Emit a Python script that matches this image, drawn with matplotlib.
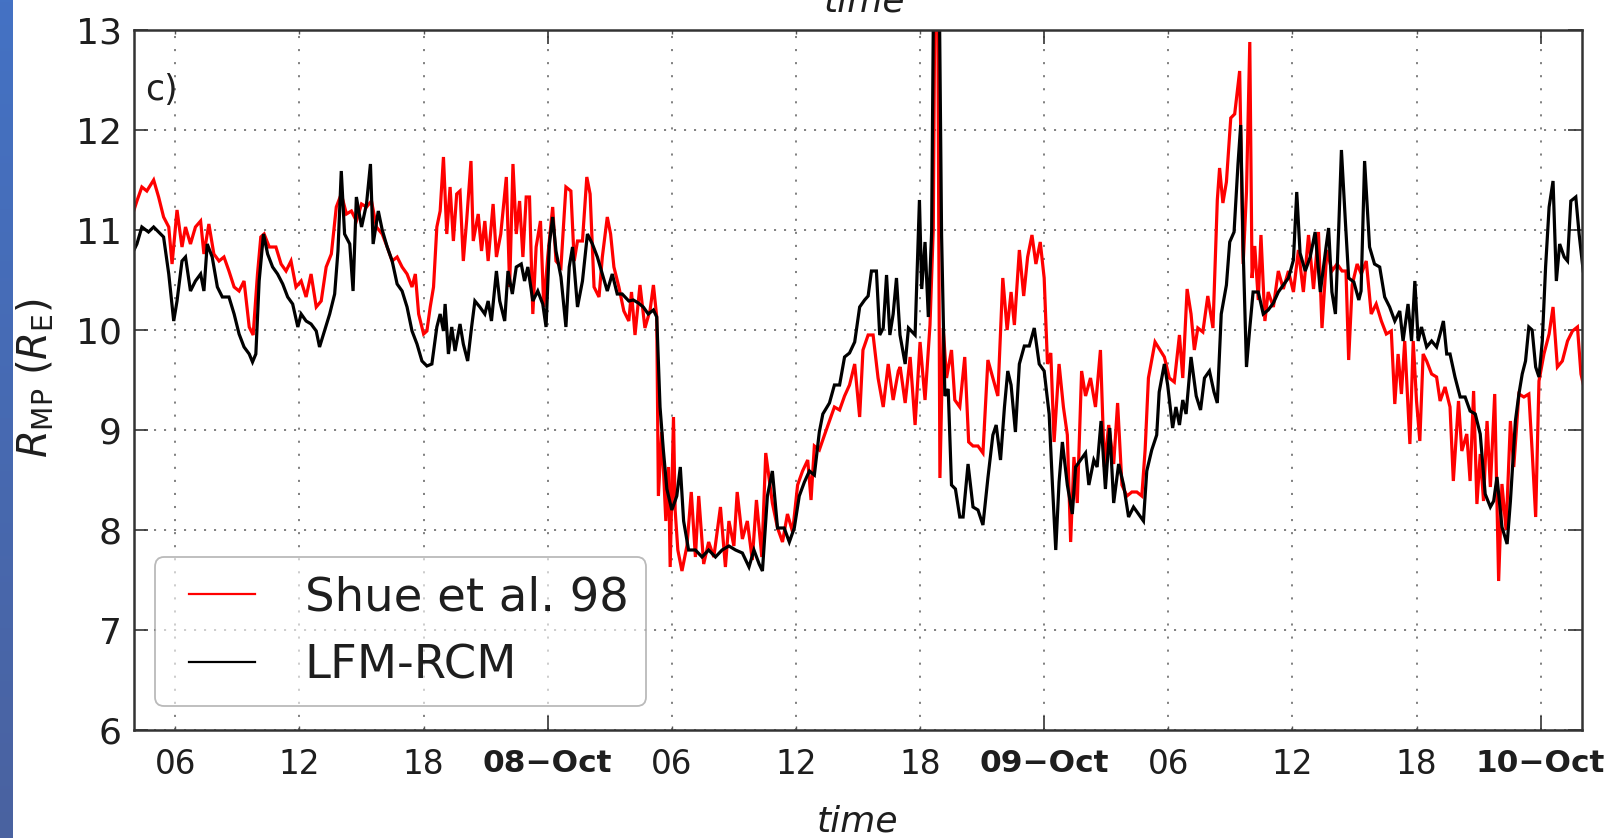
import matplotlib
matplotlib.use("Agg")
import matplotlib.pyplot as plt
import matplotlib.dates as mdates
import numpy as np
import pandas as pd
from matplotlib.lines import Line2D
from matplotlib.legend_handler import HandlerLine2D

plt.rcParams["font.family"] = ["DejaVu Sans"]
plt.rcParams["mathtext.fontset"] = "dejavusans"
plt.rcParams["lines.scale_dashes"] = False

# ---- data: (hours since 07-Oct 00:00 UT, magnetopause standoff distance in R_E) ----
shue98 = [
    (4.0, 11.2), (4.14, 11.29), (4.38, 11.43), (4.62, 11.39), (4.95, 11.5), (5.19, 11.33), (5.43, 11.13),
    (5.68, 11.03), (5.84, 10.66), (6.08, 11.2), (6.32, 10.83), (6.49, 11.03), (6.73, 10.86), (6.97, 11.03),
    (7.22, 11.09), (7.38, 10.76), (7.62, 11.06), (7.86, 10.76), (8.11, 10.69), (8.35, 10.73), (8.59, 10.59),
    (8.84, 10.43), (9.08, 10.39), (9.32, 10.49), (9.57, 10.03), (9.76, 9.95), (9.97, 10.56), (10.13, 10.93),
    (10.29, 10.96), (10.54, 10.83), (10.86, 10.83), (11.11, 10.66), (11.35, 10.59), (11.59, 10.69),
    (11.83, 10.43), (12.08, 10.49), (12.32, 10.33), (12.56, 10.56), (12.81, 10.23), (13.05, 10.29),
    (13.29, 10.63), (13.54, 10.76), (13.78, 11.23), (14.02, 11.36), (14.27, 11.16), (14.51, 11.19),
    (14.75, 11.09), (15.0, 11.26), (15.24, 11.23), (15.48, 11.29), (15.72, 11.03),
    (16.0, 10.96), (16.24, 10.83), (16.48, 10.69), (16.72, 10.73), (16.96, 10.63), (17.2, 10.56),
    (17.44, 10.43), (17.6, 10.56), (17.76, 10.16), (18.0, 9.96), (18.16, 9.99), (18.32, 10.23),
    (18.48, 10.43), (18.64, 11.03), (18.8, 11.19), (18.96, 11.73), (19.12, 10.96), (19.28, 11.43),
    (19.44, 10.89), (19.6, 11.36), (19.76, 11.39), (19.92, 10.69), (20.08, 11.09), (20.29, 11.69),
    (20.4, 10.89), (20.64, 11.16), (20.8, 10.79), (20.96, 11.09), (21.12, 10.69), (21.36, 11.26),
    (21.52, 10.73), (21.73, 10.96), (22.0, 11.53), (22.16, 10.43), (22.32, 11.66), (22.48, 10.96),
    (22.64, 11.29), (22.8, 10.73), (22.96, 11.33), (23.12, 11.33), (23.28, 10.16), (23.44, 10.83),
    (23.65, 11.09), (23.81, 10.23), (24.0, 10.73), (24.24, 11.23), (24.4, 10.69), (24.64, 10.63),
    (24.88, 11.43), (25.12, 11.39), (25.28, 10.69), (25.44, 10.89), (25.68, 10.89), (25.89, 11.53),
    (26.05, 11.36), (26.24, 10.43), (26.48, 10.33), (26.64, 10.73), (26.88, 11.13), (27.04, 10.96),
    (27.2, 10.63), (27.44, 10.43), (27.68, 10.19), (27.92, 10.09),
    (28.05, 10.38), (28.22, 9.95), (28.46, 10.45), (28.7, 10.02), (28.95, 10.2), (29.11, 10.45),
    (29.27, 10.13), (29.35, 8.34), (29.51, 8.98), (29.71, 8.09), (29.84, 8.63), (29.92, 7.63),
    (30.08, 9.13), (30.16, 8.2), (30.29, 7.8), (30.49, 7.59), (30.73, 7.84), (30.94, 8.38), (31.14, 7.73),
    (31.3, 8.34), (31.54, 7.66), (31.78, 7.88), (32.03, 7.73), (32.35, 8.23), (32.59, 7.63), (32.76, 8.09),
    (33.0, 7.84), (33.16, 8.38), (33.41, 7.91), (33.65, 8.09), (33.89, 7.7), (34.09, 8.3), (34.35, 7.73),
    (34.54, 8.77), (34.7, 8.52), (34.86, 8.27), (35.11, 8.02), (35.35, 7.88), (35.59, 8.16), (35.84, 7.98),
    (36.08, 8.45), (36.32, 8.59), (36.57, 8.7), (36.73, 8.3), (36.89, 8.84), (37.13, 8.8), (37.38, 8.95),
    (37.62, 9.09), (37.86, 9.23), (38.11, 9.2), (38.35, 9.34), (38.59, 9.45), (38.84, 9.66), (39.08, 9.13),
    (39.24, 9.8), (39.49, 9.95), (39.73, 9.95), (39.97, 9.52), (40.22, 9.23), (40.46, 9.66), (40.7, 9.3),
    (40.95, 9.59),
    (41.04, 9.63), (41.28, 9.27), (41.52, 9.73), (41.76, 9.05), (42.0, 9.88), (42.24, 9.3), (42.48, 10.05),
    (42.64, 11.02), (42.72, 13.5), (42.85, 13.5), (42.96, 8.52), (43.12, 10.02), (43.28, 9.52),
    (43.52, 9.8), (43.68, 9.3), (43.92, 9.23), (44.16, 9.73), (44.35, 8.88), (44.56, 8.84), (44.8, 8.84),
    (45.04, 8.77), (45.28, 9.7), (45.52, 9.52), (45.76, 9.34), (46.0, 10.52), (46.21, 10.0), (46.4, 10.38),
    (46.56, 10.05), (46.8, 10.8), (47.01, 10.34), (47.2, 10.73), (47.41, 10.95), (47.6, 10.66),
    (47.81, 10.88), (48.0, 10.52), (48.16, 9.66), (48.32, 9.77), (48.48, 8.88), (48.72, 9.66),
    (48.93, 9.23), (49.12, 8.95), (49.28, 7.88), (49.44, 8.73), (49.6, 8.27), (49.81, 9.59), (50.0, 9.34),
    (50.24, 9.52), (50.48, 9.23), (50.72, 9.8), (50.91, 8.63), (51.12, 9.05), (51.36, 8.66), (51.55, 9.27),
    (51.76, 8.45), (52.0, 8.34), (52.24, 8.38), (52.48, 8.38), (52.72, 8.34), (52.88, 8.8), (53.04, 9.52),
    (53.2, 9.7), (53.36, 9.88), (53.6, 9.8),
    (53.81, 9.73), (54.05, 9.52), (54.29, 9.48), (54.54, 9.95), (54.7, 9.52), (54.91, 10.41), (55.1, 10.16),
    (55.26, 9.8), (55.43, 10.02), (55.67, 9.98), (55.91, 10.34), (56.16, 10.02), (56.37, 11.3),
    (56.48, 11.62), (56.64, 11.27), (56.81, 11.48), (57.02, 12.12), (57.21, 12.16), (57.45, 12.59),
    (57.62, 10.66), (57.78, 11.38), (57.94, 12.88), (58.05, 10.52), (58.18, 10.84), (58.35, 10.3),
    (58.48, 10.95), (58.67, 10.09), (58.83, 10.38), (59.08, 10.23), (59.32, 10.59), (59.56, 10.41),
    (59.81, 10.59), (60.05, 10.38), (60.29, 10.8), (60.53, 10.38), (60.78, 10.95), (61.02, 10.41),
    (61.26, 10.98), (61.43, 10.02), (61.67, 10.8), (61.91, 10.59), (62.16, 10.66), (62.4, 10.59),
    (62.59, 10.59), (62.72, 9.7), (62.89, 10.45), (63.13, 10.66),
    (63.33, 10.56), (63.57, 10.69), (63.81, 10.16), (64.05, 10.26), (64.3, 10.09), (64.54, 9.96),
    (64.78, 9.99), (64.95, 9.26), (65.11, 9.76), (65.27, 9.36), (65.43, 9.89), (65.68, 8.86), (65.84, 9.89),
    (66.0, 9.29), (66.16, 8.89), (66.32, 9.76), (66.49, 9.69), (66.73, 9.56), (66.97, 9.53), (67.14, 9.29),
    (67.38, 9.43), (67.62, 9.23), (67.78, 8.49), (68.03, 9.29), (68.19, 8.79), (68.43, 8.96), (68.59, 8.49),
    (68.76, 9.39), (68.92, 8.26), (69.08, 8.76), (69.24, 8.29), (69.41, 9.09), (69.57, 8.43), (69.78, 9.36),
    (69.97, 7.49), (70.13, 8.46), (70.33, 8.0), (70.54, 9.09), (70.7, 8.63), (70.95, 9.36), (71.19, 9.33),
    (71.43, 9.36), (71.59, 8.79), (71.76, 8.13), (71.92, 9.49), (72.16, 9.76), (72.41, 9.96), (72.6, 10.23),
    (72.81, 9.63), (73.05, 9.69), (73.3, 9.89), (73.54, 9.99), (73.78, 10.03), (73.95, 9.56), (74.06, 9.46),
]

lfm_rcm = [
    (4.0, 10.8), (4.14, 10.86), (4.38, 11.03), (4.7, 10.98), (4.95, 11.03), (5.19, 10.98), (5.43, 10.93),
    (5.68, 10.56), (5.92, 10.09), (6.08, 10.29), (6.32, 10.69), (6.49, 10.73), (6.73, 10.39), (6.97, 10.49),
    (7.22, 10.56), (7.38, 10.39), (7.54, 10.86), (7.78, 10.73), (8.03, 10.43), (8.27, 10.33), (8.59, 10.33),
    (8.84, 10.16), (9.08, 9.96), (9.32, 9.83), (9.57, 9.76), (9.73, 9.68), (9.89, 9.76), (10.05, 10.49),
    (10.26, 10.96), (10.46, 10.76), (10.7, 10.63), (10.94, 10.56), (11.19, 10.46), (11.43, 10.33),
    (11.67, 10.26), (11.92, 10.03), (12.08, 10.16), (12.32, 10.09), (12.56, 10.06), (12.81, 9.99),
    (12.97, 9.83), (13.21, 9.99), (13.46, 10.16), (13.7, 10.36), (13.86, 10.79), (14.02, 11.59),
    (14.18, 10.96), (14.43, 10.86), (14.59, 10.39), (14.75, 11.33), (15.0, 11.03), (15.24, 11.26),
    (15.43, 11.66), (15.56, 10.86), (15.81, 11.19),
    (16.0, 11.0), (16.24, 10.83), (16.48, 10.69), (16.72, 10.46), (16.96, 10.39), (17.2, 10.23),
    (17.44, 9.99), (17.68, 9.86), (17.92, 9.69), (18.16, 9.64), (18.4, 9.66), (18.64, 10.03), (18.8, 10.16),
    (18.96, 9.99), (19.04, 10.26), (19.2, 9.76), (19.36, 10.03), (19.52, 9.79), (19.76, 10.06),
    (19.92, 9.86), (20.13, 9.69), (20.32, 10.03), (20.48, 10.29), (20.72, 10.23), (20.96, 10.16),
    (21.12, 10.29), (21.28, 10.09), (21.52, 10.59), (21.68, 10.29), (21.92, 10.09), (22.08, 10.59),
    (22.29, 10.36), (22.48, 10.63), (22.72, 10.66), (22.88, 10.49), (23.04, 10.63), (23.28, 10.29),
    (23.52, 10.39), (23.76, 10.26), (23.92, 10.03), (24.08, 10.86), (24.24, 11.13), (24.4, 10.79),
    (24.64, 10.53), (24.88, 10.03), (25.04, 10.63), (25.2, 10.83), (25.44, 10.23), (25.68, 10.49),
    (25.92, 10.96), (26.16, 10.86), (26.4, 10.73), (26.64, 10.56), (26.88, 10.39), (27.12, 10.56),
    (27.36, 10.36), (27.6, 10.36), (27.92, 10.29),
    (28.14, 10.3), (28.38, 10.27), (28.62, 10.23), (28.86, 10.16), (29.11, 10.2), (29.27, 10.13),
    (29.43, 9.23), (29.59, 8.8), (29.76, 8.41), (30.0, 8.2), (30.24, 8.34), (30.41, 8.63), (30.57, 8.09),
    (30.81, 7.8), (31.14, 7.8), (31.46, 7.73), (31.78, 7.8), (32.11, 7.73), (32.43, 7.8), (32.76, 7.84),
    (33.08, 7.8), (33.41, 7.77), (33.73, 7.63), (33.97, 7.8), (34.22, 7.66), (34.38, 7.59), (34.62, 8.34),
    (34.86, 8.59), (35.11, 8.02), (35.43, 8.02), (35.68, 7.88), (35.92, 8.02), (36.16, 8.34), (36.41, 8.48),
    (36.65, 8.59), (36.89, 8.55), (37.13, 8.98), (37.3, 9.16), (37.62, 9.27), (37.86, 9.45), (38.11, 9.45),
    (38.35, 9.73), (38.59, 9.77), (38.84, 9.88), (39.08, 10.23), (39.32, 10.3), (39.49, 10.34),
    (39.65, 10.59), (39.89, 10.59), (40.05, 9.95), (40.22, 10.02), (40.38, 10.55), (40.54, 9.95),
    (40.7, 10.16), (40.86, 10.52), (41.03, 9.95),
    (41.28, 9.66), (41.44, 10.02), (41.76, 9.95), (41.97, 11.3), (42.08, 10.41), (42.24, 10.88),
    (42.4, 10.13), (42.56, 10.98), (42.66, 13.6), (42.8, 13.8), (42.92, 13.6), (43.04, 10.95), (43.2, 9.34),
    (43.36, 9.41), (43.52, 8.45), (43.71, 8.41), (43.92, 8.13), (44.08, 8.13), (44.32, 8.66), (44.56, 8.23),
    (44.8, 8.2), (45.04, 8.05), (45.28, 8.52), (45.52, 8.95), (45.68, 9.05), (45.89, 8.7), (46.08, 9.23),
    (46.24, 9.59), (46.4, 9.45), (46.61, 8.98), (46.8, 9.66), (47.04, 9.84), (47.28, 9.84), (47.52, 10.02),
    (47.76, 9.66), (48.0, 9.59), (48.24, 9.16), (48.4, 8.45), (48.56, 7.8), (48.72, 8.48), (48.88, 8.88),
    (49.12, 8.45), (49.36, 8.16), (49.52, 8.63), (49.76, 8.7), (50.0, 8.77), (50.16, 8.45), (50.4, 8.7),
    (50.56, 8.63), (50.75, 9.09), (50.96, 8.41), (51.17, 9.02), (51.36, 8.27), (51.6, 8.66), (51.84, 8.45),
    (52.08, 8.13), (52.32, 8.23), (52.56, 8.16), (52.8, 8.09), (52.96, 8.59), (53.2, 8.8), (53.44, 8.95),
    (53.56, 9.38), (53.81, 9.66), (53.97, 9.45), (54.21, 9.02), (54.37, 9.23), (54.54, 9.05), (54.7, 9.3),
    (54.86, 9.16), (55.1, 9.73), (55.35, 9.34), (55.56, 9.2), (55.75, 9.52), (55.99, 9.59), (56.21, 9.38),
    (56.37, 9.27), (56.56, 10.16), (56.81, 10.45), (56.97, 10.88), (57.18, 10.98), (57.37, 11.66),
    (57.5, 12.05), (57.62, 10.8), (57.78, 9.63), (57.94, 10.02), (58.1, 10.38), (58.35, 10.38),
    (58.59, 10.16), (58.83, 10.2), (59.08, 10.27), (59.32, 10.38), (59.56, 10.45), (59.81, 10.52),
    (60.05, 10.7), (60.21, 11.38), (60.37, 10.77), (60.62, 10.59), (60.86, 10.73), (61.1, 10.98),
    (61.35, 10.38), (61.59, 10.77), (61.75, 11.02), (61.91, 10.38), (62.08, 10.16), (62.24, 11.02),
    (62.37, 11.8), (62.56, 11.09), (62.72, 10.52), (62.97, 10.48), (63.21, 10.3),
    (63.32, 10.39), (63.49, 11.69), (63.73, 10.83), (63.97, 10.66), (64.22, 10.63), (64.46, 10.33),
    (64.7, 10.23), (64.95, 10.09), (65.19, 10.19), (65.35, 9.89), (65.59, 10.26), (65.76, 9.89),
    (65.92, 10.49), (66.08, 9.89), (66.24, 10.03), (66.49, 9.83), (66.73, 9.89), (66.97, 9.83),
    (67.14, 9.96), (67.3, 10.09), (67.46, 9.76), (67.62, 9.76), (67.86, 9.53), (68.11, 9.33), (68.35, 9.33),
    (68.59, 9.19), (68.84, 9.16), (69.08, 8.96), (69.32, 8.36), (69.57, 8.23), (69.73, 8.29), (69.89, 8.53),
    (70.13, 8.03), (70.38, 7.86), (70.54, 8.29), (70.78, 9.09), (70.95, 9.36), (71.11, 9.56), (71.27, 9.69),
    (71.43, 10.03), (71.59, 10.0), (71.76, 9.63), (71.92, 9.53), (72.08, 9.89), (72.24, 10.63),
    (72.41, 11.23), (72.6, 11.49), (72.76, 10.49), (72.92, 10.86), (73.14, 10.73), (73.3, 10.69),
    (73.46, 11.29), (73.7, 11.33), (73.86, 10.96), (74.06, 10.59),
]

start_day = "2015-10-07"
x_range_hours = (4, 74)
y_range = (6, 13)
y_ticks = [6, 7, 8, 9, 10, 11, 12, 13]
day_ticks = ["2015-10-08", "2015-10-09", "2015-10-10"]
day_labels = ["08\u2212Oct", "09\u2212Oct", "10\u2212Oct"]
hour_ticks_h = [6, 12, 18, 30, 36, 42, 54, 60, 66]
hour_labels = ["06", "12", "18", "06", "12", "18", "06", "12", "18"]

base = pd.Timestamp(start_day)


def to_num(hours):
    t = base + pd.to_timedelta(np.asarray(hours, dtype=float), unit="h")
    return mdates.date2num(t.to_pydatetime())


shue_h, shue_r = zip(*shue98)
lfm_h, lfm_r = zip(*lfm_rcm)

W, H = 1604, 838
fig = plt.figure(figsize=(W / 100, H / 100), dpi=100)

# slide-coloured strip down the left edge
strip = fig.add_axes([0, 0, 13 / W, 1])
top_c = np.array([68, 114, 196]) / 255
bot_c = np.array([74, 98, 160]) / 255
frac = np.linspace(0, 1, 256)[:, None]
grad = (top_c[None, :] * (1 - frac) + bot_c[None, :] * frac)[:, None, :]
strip.imshow(grad, aspect="auto", extent=[0, 1, 0, 1])
strip.set_axis_off()

ax = fig.add_axes([134 / W, 1 - 730 / H, 1448 / W, 700 / H])

ax.plot(to_num(shue_h), shue_r, color="#ff0000", lw=2.3, label="Shue et al. 98",
        solid_joinstyle="miter")
ax.plot(to_num(lfm_h), lfm_r, color="black", lw=2.3, label="LFM-RCM",
        solid_joinstyle="miter")

ax.set_xlim(to_num([x_range_hours[0]])[0], to_num([x_range_hours[1]])[0])
ax.set_ylim(*y_range)
ax.set_yticks(y_ticks)

day_pos = mdates.date2num(pd.to_datetime(day_ticks).to_pydatetime())
ax.set_xticks(day_pos, labels=day_labels, fontweight="bold")
ax.set_xticks(to_num(hour_ticks_h), labels=hour_labels, minor=True)

text_c = "#1e1e1e"
ax.tick_params(axis="both", which="major", direction="in", top=True, right=True,
               length=10, width=1.2, color="#333333", labelcolor=text_c)
ax.tick_params(axis="x", which="minor", direction="in", top=True, length=3, width=1,
               color="#555555", labelcolor=text_c)
ax.tick_params(axis="y", labelsize=26, pad=9)
ax.tick_params(axis="x", which="major", labelsize=22.5, pad=14)
ax.tick_params(axis="x", which="minor", labelsize=23.5, pad=13)

for s in ax.spines.values():
    s.set_linewidth(1.8)
    s.set_color("#333333")

ax.xaxis.grid(True, which="both", color="#808080", lw=1.4, linestyle=(0, (1.5, 7.9)))
ax.yaxis.grid(True, which="major", color="#808080", lw=1.4, linestyle=(0, (1.5, 5.7)))

ax.set_ylabel(r"$R_{\rm MP}$ ($R_{\rm E}$)", fontsize=29, color=text_c)
ax.yaxis.set_label_coords((56 - 134) / 1448, 0.503)
ax.set_xlabel("time", fontsize=26, style="italic", color=text_c, va="baseline")
ax.xaxis.set_label_coords(0.5, (730 - 831) / 700)

ax.text(0.008, 0.9, "c)", transform=ax.transAxes, fontsize=25, color=text_c, va="baseline")

# bottom of the axis label belonging to the panel above
fig.text(864 / W, 1 - 11 / H, "time", fontsize=26, style="italic", color=text_c,
         ha="center", va="baseline")

leg = ax.legend(loc="lower left", bbox_to_anchor=(21 / 1448, 24 / 700), borderaxespad=0,
                fontsize=33.5, handlelength=2.1, handletextpad=0.74, borderpad=0.38,
                labelspacing=0.5, fancybox=True, framealpha=0.6, edgecolor="#8c8c8c",
                handler_map={Line2D: HandlerLine2D(numpoints=2, marker_pad=0.34)})
leg.get_frame().set_linewidth(1.3)
for t in leg.get_texts():
    t.set_color(text_c)
for h in leg.get_lines():
    h.set_linewidth(1.6)

fig.savefig("out.png", dpi=100)
